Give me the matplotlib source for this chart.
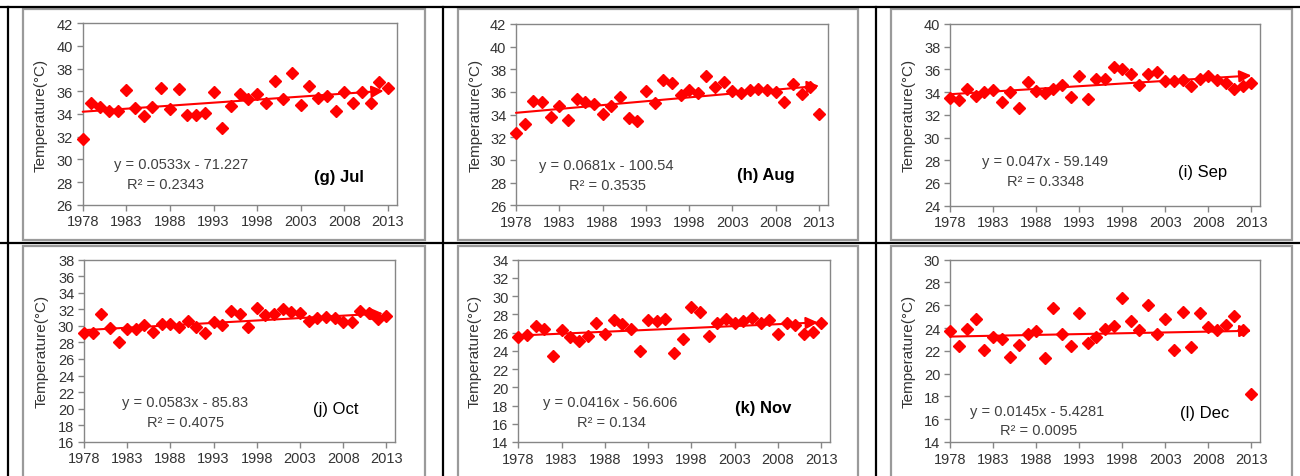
import matplotlib.pyplot as plt
from matplotlib.patches import Rectangle
from matplotlib.lines import Line2D

plt.rcParams['font.family'] = ['Liberation Sans', 'DejaVu Sans']

W, H = 1300, 477

years = list(range(1978, 2014))
xticks = [1978, 1983, 1988, 1993, 1998, 2003, 2008, 2013]

# monthly temperature (°C)
jul = [31.8, 35.0, 34.6, 34.3, 34.3, 36.1, 34.5, 33.8, 34.6, 36.3, 34.4, 36.2,
       33.9, 33.9, 34.1, 35.9, 32.8, 34.7, 35.8, 35.3, 35.8, 35.0, 36.9, 35.3,
       37.6, 34.8, 36.5, 35.4, 35.6, 34.3, 35.9, 35.0, 35.9, 35.0, 36.8, 36.3]
aug = [32.4, 33.2, 35.2, 35.1, 33.8, 34.8, 33.5, 35.4, 35.1, 34.9, 34.1, 34.8,
       35.6, 33.7, 33.4, 36.1, 35.0, 37.1, 36.8, 35.7, 36.2, 35.9, 37.4, 36.4,
       36.9, 36.1, 35.9, 36.2, 36.3, 36.2, 36.0, 35.1, 36.7, 35.8, 36.4, 34.1]
sep = [33.5, 33.3, 34.3, 33.7, 34.0, 34.2, 33.1, 34.0, 32.6, 34.9, 34.1, 33.9,
       34.3, 34.6, 33.6, 35.4, 33.4, 35.2, 35.2, 36.2, 36.0, 35.6, 34.6, 35.6,
       35.8, 35.0, 35.0, 35.1, 34.5, 35.2, 35.4, 35.1, 34.8, 34.3, 34.5, 34.8]
oct_ = [29.2, 29.1, 31.4, 29.8, 28.0, 29.6, 29.6, 30.1, 29.3, 30.2, 30.2, 29.9,
        30.6, 29.9, 29.2, 30.5, 30.1, 31.8, 31.4, 29.9, 32.2, 31.3, 31.4, 32.0,
        31.7, 31.6, 30.6, 30.9, 31.1, 30.9, 30.5, 30.5, 31.8, 31.6, 30.8, 31.2]
nov = [25.5, 25.7, 26.7, 26.4, 23.4, 26.3, 25.5, 25.1, 25.6, 27.1, 25.9, 27.4,
       26.9, 26.4, 24.0, 27.4, 27.3, 27.5, 23.8, 25.3, 28.8, 28.3, 25.6, 27.1,
       27.5, 27.1, 27.3, 27.6, 27.1, 27.4, 25.9, 27.1, 26.8, 25.9, 26.1, 27.1]
dec = [23.7, 22.4, 23.9, 24.8, 22.1, 23.2, 23.0, 21.5, 22.5, 23.5, 23.7, 21.4,
       25.8, 23.5, 22.4, 25.3, 22.7, 23.2, 23.9, 24.2, 26.6, 24.6, 23.8, 26.0,
       23.5, 24.8, 22.1, 25.4, 22.3, 25.3, 24.1, 23.8, 24.3, 25.1, 23.8, 18.2]

series = [jul, aug, sep, oct_, nov, dec]
labels = ['(g) Jul', '(h) Aug', '(i) Sep', '(j) Oct', '(k) Nov', '(l) Dec']
slopes = [0.0533, 0.0681, 0.047, 0.0583, 0.0416, 0.0145]
intercepts = [-71.227, -100.54, -59.149, -85.83, -56.606, -5.4281]
eq_text = ['y = 0.0533x - 71.227', 'y = 0.0681x - 100.54', 'y = 0.047x - 59.149',
           'y = 0.0583x - 85.83', 'y = 0.0416x - 56.606', 'y = 0.0145x - 5.4281']
r2_text = ['R² = 0.2343', 'R² = 0.3535', 'R² = 0.3348',
           'R² = 0.4075', 'R² = 0.134', 'R² = 0.0095']
ylims = [(26, 42), (26, 42), (24, 40), (16, 38), (14, 34), (14, 30)]

# layout (pixels, top-left origin)
boxes = [(82.7, 24.3, 396.7, 205.7), (516, 25, 827.7, 206.3), (950, 25, 1260, 206.7),
         (84, 260.7, 395, 442.7), (518.3, 260.7, 830, 443), (950, 260.7, 1260, 443)]
eq_pos = [(0.313, 0.224), (0.291, 0.224), (0.307, 0.248),
          (0.325, 0.216), (0.296, 0.218), (0.282, 0.168)]
r2_pos = [(0.265, 0.114), (0.295, 0.112), (0.307, 0.138),
          (0.325, 0.110), (0.300, 0.111), (0.285, 0.066)]
lab_pos = [(0.817, 0.158), (0.802, 0.172), (0.816, 0.187),
           (0.811, 0.183), (0.785, 0.190), (0.820, 0.163)]
lab_bold = [True, True, False, False, True, False]
ylab_x = [-0.133, -0.128, -0.134, -0.136, -0.139, -0.134]
trend_end = [2012.5, 2013, 2013, 2012.6, 2012.6, 2013]

fig = plt.figure(figsize=(W / 100, H / 100), dpi=100)


def fx(x):
    return x / W


def fy(y):
    return 1 - y / H


# table borders and chart-area frames
for x0, x1 in [(23, 425), (458.3, 858.3), (891.3, 1291.5)]:
    for y0, y1 in [(10, 240.7), (246.7, 490)]:
        fig.add_artist(Rectangle((fx(x0), fy(y1)), fx(x1) - fx(x0), fy(y0) - fy(y1),
                                 transform=fig.transFigure, fill=False,
                                 edgecolor='#9a9a9a', lw=1.6))
for y in [8.3, 244.3]:
    fig.add_artist(Line2D([0, 1], [fy(y), fy(y)], transform=fig.transFigure,
                          color='black', lw=1.6))
for x in [8, 442.7, 876]:
    fig.add_artist(Line2D([fx(x), fx(x)], [fy(8.3), 0], transform=fig.transFigure,
                          color='black', lw=1.6))

for i in range(6):
    l, t, r, b = boxes[i]
    ax = fig.add_axes([fx(l), fy(b), fx(r) - fx(l), fy(t) - fy(b)])
    ax.plot(years, series[i], 'D', color='red', markersize=6.5, clip_on=False, zorder=3)

    y0 = slopes[i] * 1978 + intercepts[i]
    y1 = slopes[i] * trend_end[i] + intercepts[i]
    ax.annotate('', xy=(trend_end[i], y1), xytext=(1978, y0),
                arrowprops=dict(arrowstyle='-|>', color='red', lw=1.5,
                                mutation_scale=18, shrinkA=0, shrinkB=0),
                zorder=4, annotation_clip=False)

    ax.set_xlim(1978, 2014)
    ax.set_ylim(*ylims[i])
    ax.set_xticks(xticks)
    ax.set_yticks(range(ylims[i][0], ylims[i][1] + 1, 2))
    for s in ax.spines.values():
        s.set_color('#868686')
        s.set_linewidth(1.0)
    ax.tick_params(direction='out', length=4, width=1, color='#868686',
                   labelsize=10.5, labelcolor='#333333', pad=3)

    ax.set_ylabel('Temperature(°C)', fontsize=11, color='#333333')
    ax.yaxis.label.set_va('center')
    ax.yaxis.set_label_coords(ylab_x[i], 0.5)

    ax.text(*eq_pos[i], eq_text[i], transform=ax.transAxes, ha='center', va='center',
            fontsize=10.5, color='#404040')
    ax.text(*r2_pos[i], r2_text[i], transform=ax.transAxes, ha='center', va='center',
            fontsize=10.5, color='#404040')
    ax.text(*lab_pos[i], labels[i], transform=ax.transAxes, ha='center', va='center',
            fontsize=12, color='black',
            fontweight='bold' if lab_bold[i] else 'normal')

fig.savefig('out.png', dpi=100)
